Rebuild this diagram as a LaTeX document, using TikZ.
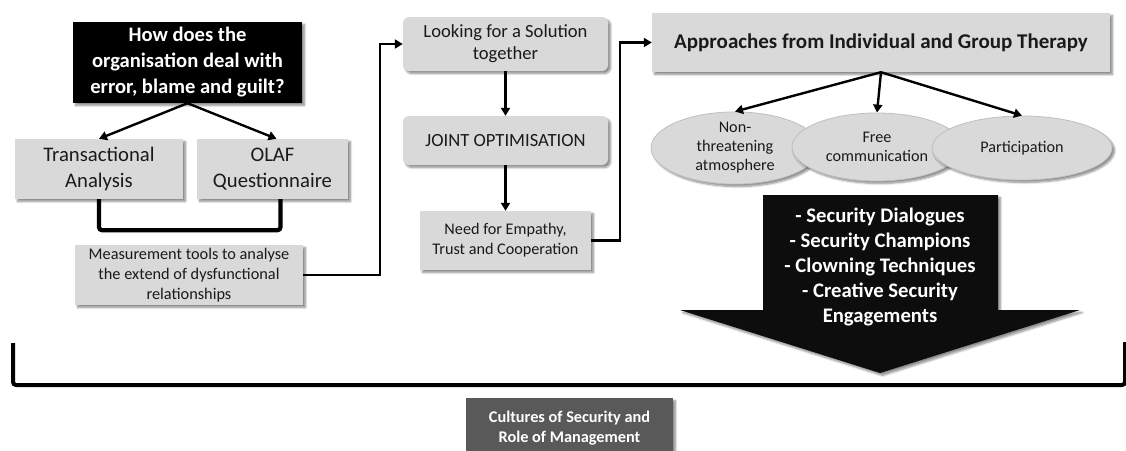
\documentclass[tikz,border=0pt]{standalone}
\usepackage{fontspec}
\setmainfont{Carlito}
\usetikzlibrary{arrows.meta,shapes.geometric,shadows.blur,calc}
\definecolor{boxgrey}{HTML}{D9D9D9}
\definecolor{ink}{HTML}{1A1A1A}
\definecolor{darkbox}{HTML}{595959}
\tikzset{
  shade3/.style={blur shadow={shadow xshift=2.5pt,shadow yshift=-2.5pt,shadow blur radius=2pt,shadow blur steps=6,shadow opacity=45}},
  greybox/.style={fill=boxgrey,text=ink,align=center,inner sep=0pt,shade3},
  blackbox/.style={fill=black,text=white,align=center,inner sep=0pt,shade3,font=\bfseries},
  oval/.style={ellipse,fill=boxgrey,draw=black!25,line width=0.8pt,text=ink,align=center,inner sep=0pt,shade3},
  conn/.style={line width=2.4pt,-{Triangle[length=8pt,width=9pt]},draw=black},
  brace/.style={line width=4pt,draw=black,rounded corners=3pt},
}
\newcommand{\fs}[2]{\fontsize{#1}{#2}\selectfont}
\begin{document}
\begin{tikzpicture}[x=1pt,y=-1pt]
\useasboundingbox (0,0) rectangle (1126,450);

% left column
\node[blackbox,minimum width=229,minimum height=81,font=\bfseries\fs{20.6}{26}] (q) at (187.5,62.5)
  {How does the\\organisation deal with\\error, blame and guilt?};
\node[greybox,minimum width=168,minimum height=60,font=\fs{20.7}{26}] (ta) at (99,169) {Transactional\\Analysis};
\node[greybox,minimum width=151,minimum height=60,font=\fs{20.7}{26}] (olaf) at (272.5,169) {OLAF\\Questionnaire};
\node[greybox,minimum width=228,minimum height=60,font=\fs{16.3}{19.8}] (meas) at (189,275)
  {Measurement tools to analyse\\the extend of dysfunctional\\relationships};

\draw[conn] (q.south) -- (ta.north);
\draw[conn] (q.south) -- ([xshift=4]olaf.north);
\draw[brace,line width=4.2pt] (ta.south) -- ++(0,31) -| ([xshift=8]olaf.south);

% middle column
\node[greybox,rounded corners=6pt,minimum width=205,minimum height=54,font=\fs{18.6}{22}] (look) at (505.5,44)
  {Looking for a Solution\\together};
\node[greybox,rounded corners=6pt,minimum width=205,minimum height=49,font=\fs{18.6}{22}] (joint) at (505.5,140.5)
  {JOINT OPTIMISATION};
\node[greybox,minimum width=171,minimum height=59,font=\fs{16.2}{20}] (need) at (505.5,240.5)
  {Need for Empathy,\\Trust and Cooperation};

\draw[conn] (meas.east) -- ++(77,0) |- (look.west);
\draw[conn] (look.south) -- (joint.north);
\draw[conn] (joint.south) -- (need.north);

% right column
\node[greybox,minimum width=458,minimum height=59,font=\bfseries\fs{21}{25}] (appr) at (881,42.5)
  {Approaches from Individual and Group Therapy};
\draw[conn] (need.east) -- ++(29,0) |- (appr.west);

\node[oval,minimum width=168,minimum height=64,font=\fs{16.2}{19}] (e1) at (735,148)
  {Non-\\threatening\\atmosphere};
\node[oval,minimum width=170,minimum height=68,font=\fs{16.2}{19.5}] (e2) at (877,147)
  {Free\\communication};
\node[oval,minimum width=180,minimum height=64,font=\fs{16.2}{19.5}] (e3) at (1022,148)
  {Participation};

\draw[conn] (appr.south) -- (e1.north);
\draw[conn] (appr.south) -- (e2.north);
\draw[conn] (appr.south) -- (e3.north);

% big downward arrow with the list of measures
\fill[black!95,shade3] (763,195) -- (998,195) -- (998,310) -- (1080,310) -- (880,373)
  -- (680,310) -- (763,310) -- cycle;
\node[text=white,align=center,font=\bfseries\fs{20.7}{25}] (list) at (880,267)
  {- Security Dialogues\\- Security Champions\\- Clowning Techniques\\- Creative Security\\Engagements};

% bracket gathering everything above
\coordinate (bl) at (13,343);
\coordinate (br) at (1125,342);
\draw[brace] (bl) -- (13,385) -- (1125,385) -- (br);

\node[fill=darkbox,inner sep=0pt,shade3,minimum width=207,minimum height=70,anchor=north] (cult) at (569.5,398) {};
\node[text=white,align=center,font=\bfseries\fs{16.3}{20}] (culttext) at (569.5,428)
  {Cultures of Security and\\Role of Management};
\end{tikzpicture}
\end{document}
